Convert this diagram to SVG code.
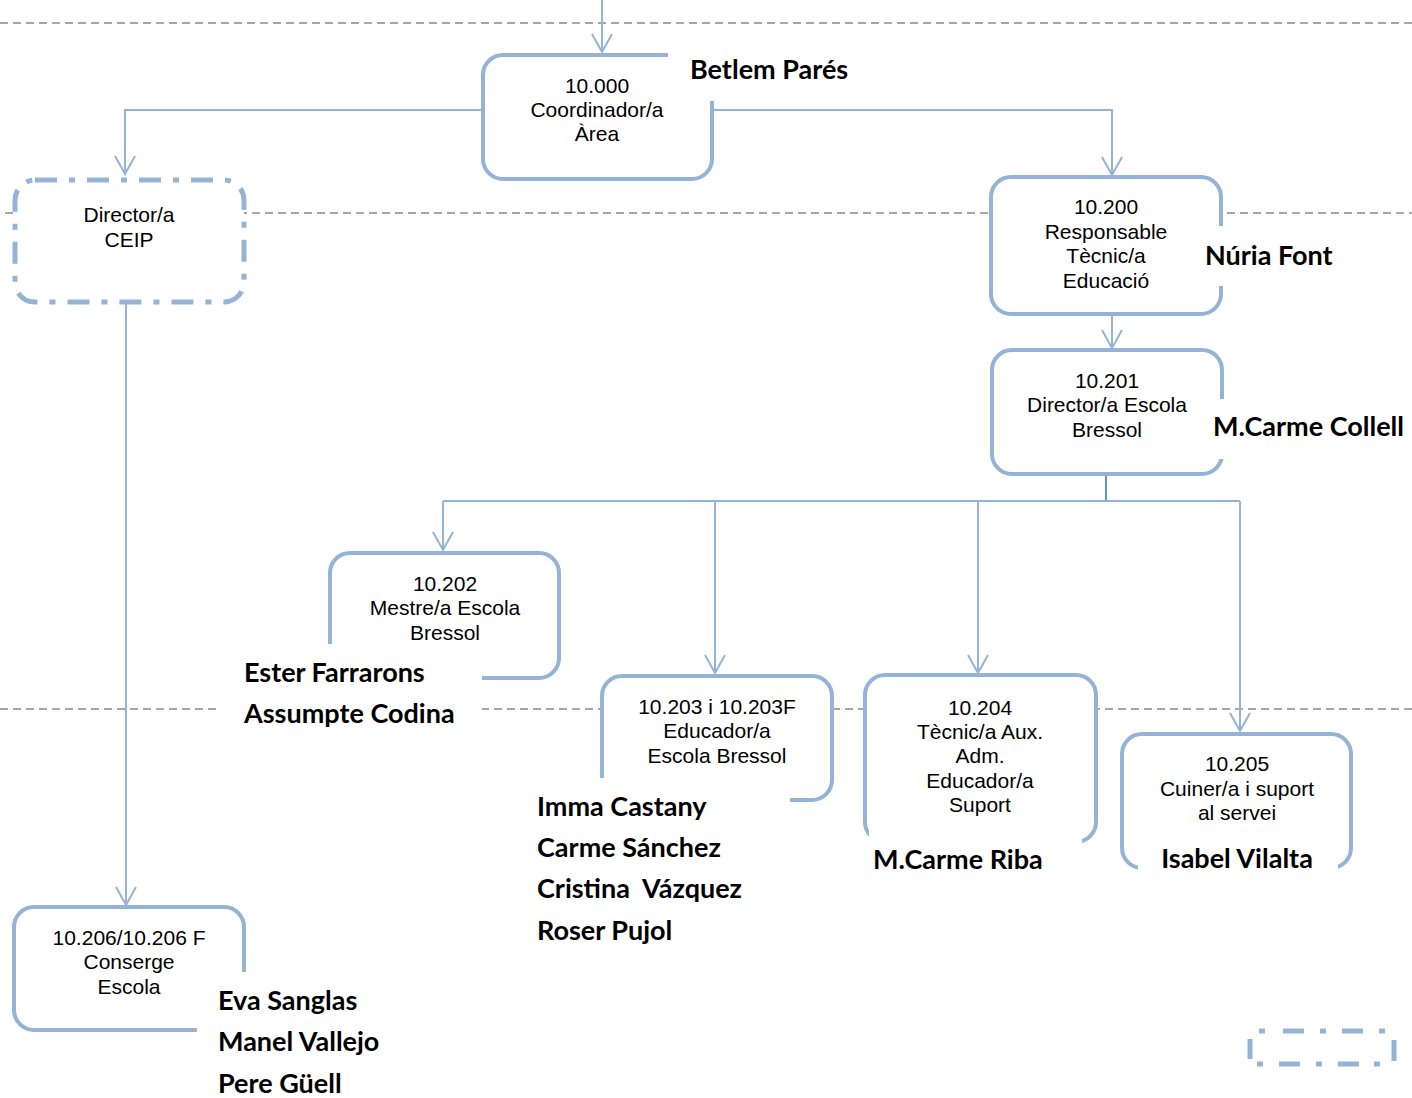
<svg xmlns="http://www.w3.org/2000/svg" width="1412" height="1098" viewBox="0 0 1412 1098">
<defs>
<style>
.guide{stroke:#888;stroke-width:1.6;stroke-dasharray:8 5;fill:none}
.conn{stroke:#95b3d7;stroke-width:2;fill:none}
.box{stroke:#95b3d7;stroke-width:4;fill:#fff}
.dd{stroke:#95b3d7;stroke-width:5;fill:#fff;stroke-dasharray:22 12 6 12}
.mask{fill:#fff}
.t{font-family:"Liberation Sans",Arial,sans-serif;font-size:21px;fill:#000;text-anchor:middle}
.n{font-family:Lato,"Open Sans",sans-serif;font-weight:bold;font-size:27px;fill:#000;white-space:pre}
</style>
<marker id="ah" markerWidth="24" markerHeight="24" refX="20" refY="12" orient="auto" markerUnits="userSpaceOnUse" viewBox="0 0 24 24">
<path d="M2,2 L20,12 L2,22" fill="none" stroke="#95b3d7" stroke-width="2"/>
</marker>
</defs>
<rect width="1412" height="1098" fill="#fff"/>
<g id="guides">
<line class="guide" x1="0" y1="23" x2="1412" y2="23"/>
<line class="guide" x1="5" y1="213" x2="1412" y2="213"/>
<line class="guide" x1="0" y1="709" x2="1412" y2="709"/>
</g>
<g id="connectors">
<path class="conn" d="M602,0 V52" marker-end="url(#ah)"/>
<path class="conn" d="M483,110 H125 V174"/>
<path class="conn" d="M125,150 V174" marker-end="url(#ah)"/>
<path class="conn" d="M712,110 H1112 V175"/>
<path class="conn" d="M1112,150 V175" marker-end="url(#ah)"/>
<path class="conn" d="M1112,305 V348" marker-end="url(#ah)"/>
<path class="conn" d="M126,302 V905" marker-end="url(#ah)"/>
<path d="M1106,474 V501" stroke="#4472c4" stroke-width="1.6" fill="none"/>
<path class="conn" d="M443,501 H1240"/>
<path class="conn" d="M443,501 V550" marker-end="url(#ah)"/>
<path class="conn" d="M715,501 V673" marker-end="url(#ah)"/>
<path class="conn" d="M978,501 V673" marker-end="url(#ah)"/>
<path class="conn" d="M1240,501 V731" marker-end="url(#ah)"/>
</g>
<g id="n10000">
<rect class="box" x="483" y="55" width="229" height="124" rx="20"/>
<rect class="mask" x="668" y="40" width="190" height="61"/>
<text class="t" x="597" y="93">10.000</text>
<text class="t" x="597" y="117">Coordinador/a</text>
<text class="t" x="597" y="141">Àrea</text>
<text class="n" x="690" y="79">Betlem Parés</text>
</g>
<g id="ceip">
<rect class="dd" x="15" y="180" width="229" height="122" rx="20"/>
<text class="t" x="129" y="222">Director/a</text>
<text class="t" x="129" y="247">CEIP</text>
</g>
<g id="n10200">
<rect class="box" x="991" y="177" width="230" height="137" rx="20"/>
<rect class="mask" x="1200" y="226" width="140" height="60"/>
<text class="t" x="1106" y="214">10.200</text>
<text class="t" x="1106" y="239">Responsable</text>
<text class="t" x="1106" y="263">Tècnic/a</text>
<text class="t" x="1106" y="288">Educació</text>
<text class="n" x="1205" y="265">Núria Font</text>
</g>
<g id="n10201">
<rect class="box" x="992" y="350" width="230" height="124" rx="20"/>
<rect class="mask" x="1205" y="399" width="207" height="60"/>
<text class="t" x="1107" y="388">10.201</text>
<text class="t" x="1107" y="412">Director/a Escola</text>
<text class="t" x="1107" y="437">Bressol</text>
<text class="n" x="1213" y="436">M.Carme Collell</text>
</g>
<g id="n10202">
<rect class="box" x="330" y="553" width="229" height="125" rx="20"/>
<rect class="mask" x="219" y="644" width="263" height="88"/>
<text class="t" x="445" y="591">10.202</text>
<text class="t" x="445" y="615">Mestre/a Escola</text>
<text class="t" x="445" y="640">Bressol</text>
<text class="n" x="244" y="682">Ester Farrarons</text>
<text class="n" x="244" y="723">Assumpte Codina</text>
</g>
<g id="n10203">
<rect class="box" x="602" y="676" width="230" height="124" rx="20"/>
<rect class="mask" x="530" y="778" width="260" height="168"/>
<text class="t" x="717" y="714">10.203 i 10.203F</text>
<text class="t" x="717" y="738">Educador/a</text>
<text class="t" x="717" y="763">Escola Bressol</text>
<text class="n" x="537" y="816">Imma Castany</text>
<text class="n" x="537" y="857">Carme Sánchez</text>
<text class="n" x="537" y="898">Cristina  Vázquez</text>
<text class="n" x="537" y="940">Roser Pujol</text>
</g>
<g id="n10204">
<rect class="box" x="865" y="675" width="231" height="167" rx="20"/>
<rect class="mask" x="869" y="829" width="213" height="50"/>
<text class="t" x="980" y="715">10.204</text>
<text class="t" x="980" y="739">Tècnic/a Aux.</text>
<text class="t" x="980" y="763">Adm.</text>
<text class="t" x="980" y="788">Educador/a</text>
<text class="t" x="980" y="812">Suport</text>
<text class="n" x="873" y="869">M.Carme Riba</text>
</g>
<g id="n10205">
<rect class="box" x="1122" y="734" width="229" height="134" rx="20"/>
<rect class="mask" x="1138" y="847" width="200" height="33"/>
<text class="t" x="1237" y="771">10.205</text>
<text class="t" x="1237" y="796">Cuiner/a i suport</text>
<text class="t" x="1237" y="820">al servei</text>
<text class="n" x="1237" y="868" text-anchor="middle">Isabel Vilalta</text>
</g>
<g id="n10206">
<rect class="box" x="14" y="907" width="230" height="123" rx="20"/>
<rect class="mask" x="197" y="972" width="210" height="126"/>
<text class="t" x="129" y="945">10.206/10.206 F</text>
<text class="t" x="129" y="969">Conserge</text>
<text class="t" x="129" y="994">Escola</text>
<text class="n" x="218" y="1010">Eva Sanglas</text>
<text class="n" x="218" y="1051">Manel Vallejo</text>
<text class="n" x="218" y="1093">Pere Güell</text>
</g>
<g id="legend">
<path d="M1259,1031 h6 M1283,1031 h21 M1320,1031 h6 M1342,1031 h21 M1379,1031 h6 M1257,1064 h6 M1279,1064 h21 M1316,1064 h6 M1338,1064 h21 M1374,1064 h6" stroke="#95b3d7" stroke-width="5" fill="none"/>
<path d="M1250,1039 v20 M1394,1040 v21" stroke="#95b3d7" stroke-width="5" fill="none"/>
</g>
</svg>
